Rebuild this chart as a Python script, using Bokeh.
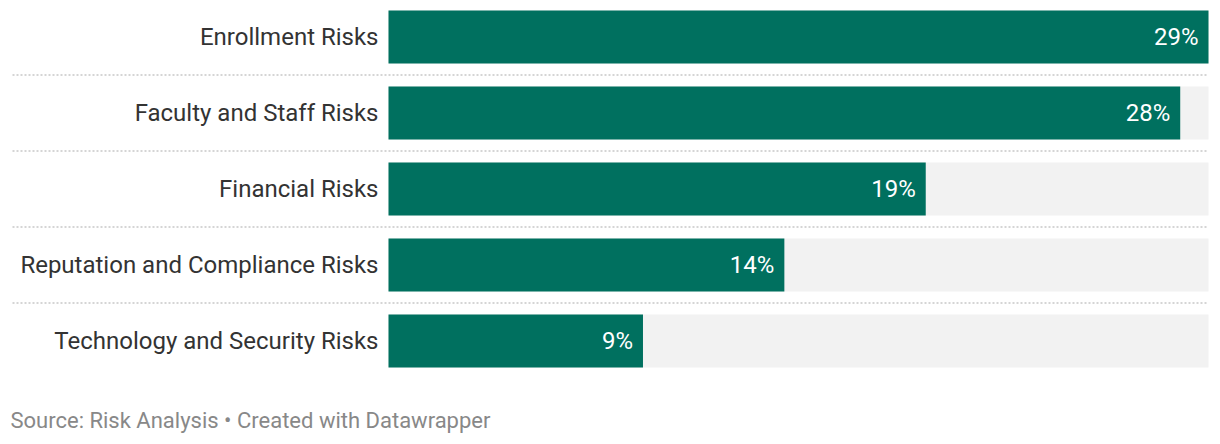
from bokeh.plotting import figure
from bokeh.models import Range1d, ColumnDataSource, Label
from bokeh.core.properties import value
from bokeh.embed import file_html
from bokeh.resources import INLINE

categories = ["Enrollment Risks", "Faculty and Staff Risks", "Financial Risks",
              "Reputation and Compliance Risks", "Technology and Security Risks"]
values = [29, 28, 19, 14, 9]
max_value = 29
source_text = "Source: Risk Analysis \u2022 Created with Datawrapper"

TEAL = "#00705f"
BG = "#f2f2f2"

n = len(categories)
idx = list(range(n))
src = ColumnDataSource(dict(
    y=idx,
    v=values,
    full=[max_value] * n,
    cat=categories,
    lab=[f"{v}%" for v in values],
))

W, H = 1220, 444
px_per_unit = 820 / 29.0
x_start = (0 - 388) / px_per_unit
x_end = (W - 388) / px_per_unit
y_top = (0 - 36.5) / 76.0
y_bot = (H - 36.5) / 76.0

p = figure(width=W, height=H, output_backend="svg", toolbar_location=None,
           x_range=Range1d(x_start, x_end), y_range=Range1d(y_bot, y_top),
           min_border=0, min_border_left=0, min_border_right=0,
           min_border_top=0, min_border_bottom=0)
p.axis.visible = False
p.grid.visible = False
p.outline_line_color = None
p.background_fill_color = "white"
p.border_fill_color = "white"

bh = 53 / 76.0
p.hbar(y="y", left=0, right="full", height=bh, source=src, color=BG, line_color=None)
p.hbar(y="y", left=0, right="v", height=bh, source=src, color=TEAL, line_color=None)

# separators
sep_y = [i + 0.5 for i in range(n - 1)]
sep_x0 = (12 - 388) / px_per_unit
p.segment(x0=[sep_x0] * len(sep_y), x1=[max_value] * len(sep_y), y0=sep_y, y1=sep_y,
          line_color="#c8c8c8", line_width=1.5, line_dash="2 2")

p.text(x=0, y="y", text="cat", source=src, x_offset=-10,
       text_align="right", text_baseline="middle",
       text_font=value("Roboto"), text_font_size="24px", text_color="#333333")
p.text(x="v", y="y", text="lab", source=src, x_offset=-10,
       text_align="right", text_baseline="middle",
       text_font=value("Roboto"), text_font_size="24px", text_color="white")

p.add_layout(Label(x=10, y=H - 420, x_units="screen", y_units="screen", text=source_text,
                   text_font="Roboto", text_font_size="22px", text_color="#888888",
                   text_baseline="middle", text_align="left"))

open("out.html", "w").write(file_html(p, INLINE))
